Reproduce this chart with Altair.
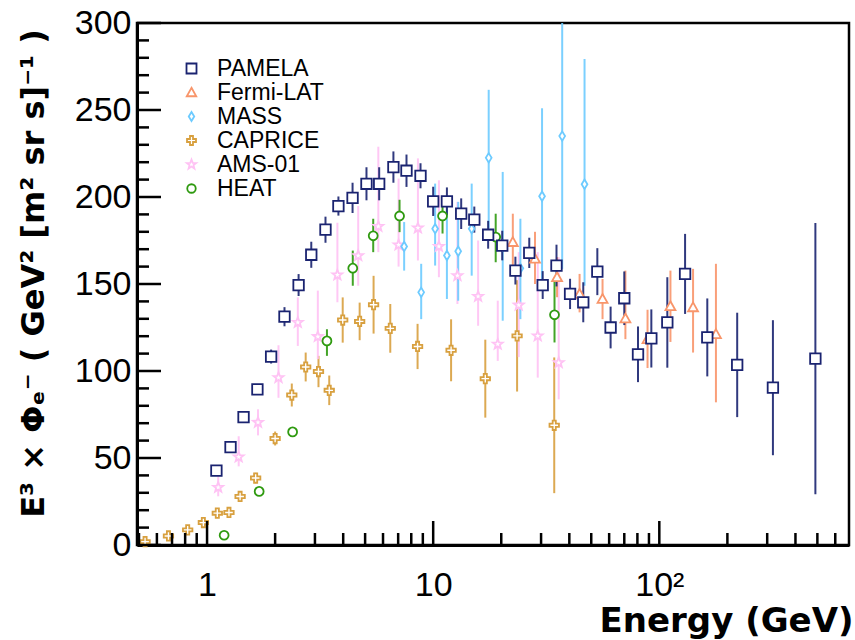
import math
import altair as alt
import pandas as pd

# ---------------- data ----------------
series_names = ["PAMELA", "Fermi-LAT", "MASS", "CAPRICE", "AMS-01", "HEAT"]
series_colors = ["#1a2370", "#f8956a", "#6dcbff", "#d8a03f", "#ffc2f4", "#2f9a10"]

pamela_x = [1.10, 1.27, 1.45, 1.67, 1.92, 2.20, 2.54, 2.89, 3.34, 3.81, 4.40, 5.07, 5.77, 6.67,
            7.62, 8.79, 10.0, 11.5, 13.3, 15.2, 17.5, 20.2, 23.1, 26.6, 30.5, 35.1, 40.3, 46.1,
            53.2, 60.9, 70.0, 80.5, 92.2, 108.5, 130, 163, 221, 318, 490]
pamela_y = [42.7, 56.2, 73.5, 89.4, 108.3, 131.2, 149.4, 166.8, 181.2, 194.8, 199.5, 207.6, 207.6,
            217.2, 215.1, 212.2, 197.5, 197.5, 190.4, 187.0, 178.3, 172.1, 157.7, 167.9, 149.4,
            160.6, 144.3, 139.5, 157.1, 125.0, 141.8, 109.6, 118.7, 127.9, 155.8, 119.3, 103.5,
            90.4, 107.1]
pamela_err = [1.5, 1.5, 2, 3, 4, 5.5, 6.3, 7.5, 7.5, 5.5, 8.7, 9.5, 9.5, 9, 9.3, 7.2, 8.4, 8,
              8.8, 7.5, 8, 8.5, 8, 8.7, 8, 12, 8.7, 11.5, 13.5, 12, 15.4, 16, 16.7, 26, 23, 22.4,
              30, 38.8, 78]

fermi_x = [22.5, 28.2, 35.3, 44.4, 56.1, 70.8, 88.7, 112, 141, 178]
fermi_y = [174.1, 164.5, 153.9, 144.3, 141.4, 130.2, 118.3, 137.2, 136.6, 121.2]
fermi_lo = [157.0, 150.0, 142.4, 133.7, 129.8, 118.3, 101.7, 116.7, 110.6, 82.0]
fermi_hi = [190.4, 180.0, 165.4, 155.8, 152.9, 157.7, 135.2, 157.7, 158.7, 161.6]

mass_x = [7.44, 8.85, 10.2, 11.5, 12.9, 14.8, 17.6, 20.3, 24.3, 30.3, 37.2, 46.7]
mass_y = [171.6, 145.2, 181.8, 166.4, 168.8, 181.8, 222.5, 172.0, 159.0, 200.4, 235.0, 207.3]
mass_lo = [157.7, 129.8, 160.6, 141.4, 140.4, 154.8, 182.0, 128.9, 129.8, 151.0, 158.7, 149.0]
mass_hi = [185.6, 161.6, 207.7, 198.1, 197.2, 207.7, 261.6, 214.4, 187.5, 251.0, 300.6, 279.3]

caprice_x = [0.532, 0.675, 0.821, 0.963, 1.11, 1.25, 1.40, 1.64, 2.00, 2.37, 2.73, 3.11, 3.47,
             3.98, 4.73, 5.45, 6.46, 8.53, 12.0, 17.0, 23.5, 34.3]
caprice_y = [1.9, 5.2, 8.7, 12.9, 18.3, 18.7, 27.9, 38.5, 61.2, 86.2, 102.3, 99.7, 88.9, 129.3,
             128.5, 138.1, 124.5, 114.1, 111.9, 95.6, 120.2, 68.8]
caprice_err = [0.5, 0.5, 1, 1, 1.5, 1.5, 2, 3, 4, 6.6, 8.3, 9, 8.5, 13, 10.8, 16.6, 14, 13,
               17.8, 22.4, 32, 39]

ams_x = [1.12, 1.38, 1.68, 2.07, 2.52, 3.09, 3.77, 4.66, 5.72, 7.03, 8.56, 10.6, 12.8, 15.8,
         19.3, 23.9, 29.0, 35.9]
ams_y = [33.1, 50.6, 70.5, 96.2, 127.9, 119.8, 155.2, 166.3, 183.1, 172.5, 182.2, 171.6, 154.8,
         142.9, 115.4, 137.9, 120.2, 104.8]
ams_lo = [28.0, 45.2, 63.0, 84.6, 114.4, 106.8, 139.5, 149.0, 168.3, 160.0, 163.5, 153.9, 138.5,
          126.0, 105.8, 108.0, 96.2, 83.7]
ams_hi = [39.4, 62.5, 78.0, 114.8, 142.3, 146.2, 185.2, 194.8, 228.9, 210.6, 222.2, 209.6, 197.2,
          175.0, 140.4, 168.3, 168.3, 165.4]

heat_x = [1.19, 1.70, 2.39, 3.39, 4.41, 5.43, 7.10, 11.0, 18.9, 34.4]
heat_y = [5.6, 30.8, 65.0, 117.3, 159.1, 177.7, 189.1, 189.1, 177.0, 132.3]
heat_lo = [5.1, 29.8, 63.0, 108.7, 149.0, 168.3, 179.8, 179.0, 162.5, 116.4]
heat_hi = [6.1, 31.8, 67.0, 124.0, 169.2, 187.5, 198.4, 199.0, 190.4, 151.9]

y_major_ticks = [0, 50, 100, 150, 200, 250, 300]
y_minor_ticks = [v for v in range(10, 300, 10) if v % 50 != 0]
x_major_ticks = [1, 10, 100]
x_minor_ticks = [0.5, 0.6, 0.7, 0.8, 0.9, 2, 3, 4, 5, 6, 7, 8, 9,
                 20, 30, 40, 50, 60, 70, 80, 90, 200, 300, 400, 500, 600]

# ---------------- table ----------------
draw_order = ["CAPRICE", "AMS-01", "MASS", "HEAT", "Fermi-LAT", "PAMELA"]
rows = []
def add(name, xs, ys, los, his):
    for a, b, lo, hi in zip(xs, ys, los, his):
        rows.append({"series": name, "x": a, "y": b, "lo": lo, "hi": hi,
                     "draw": draw_order.index(name)})

add("CAPRICE", caprice_x, caprice_y, [v - e for v, e in zip(caprice_y, caprice_err)],
    [v + e for v, e in zip(caprice_y, caprice_err)])
add("AMS-01", ams_x, ams_y, ams_lo, ams_hi)
add("MASS", mass_x, mass_y, mass_lo, mass_hi)
add("HEAT", heat_x, heat_y, heat_lo, heat_hi)
add("Fermi-LAT", fermi_x, fermi_y, fermi_lo, fermi_hi)
add("PAMELA", pamela_x, pamela_y, [v - e for v, e in zip(pamela_y, pamela_err)],
    [v + e for v, e in zip(pamela_y, pamela_err)])
df = pd.DataFrame(rows)

# ---------------- marker shapes (unit paths) ----------------
sq = "M-1,-1L1,-1L1,1L-1,1Z"
tri = "M0,-0.95L0.95,0.75L-0.95,0.75Z"
dia = "M0,-0.9L0.55,0L0,0.9L-0.55,0Z"
crs = ("M-0.3,-0.9L0.3,-0.9L0.3,-0.3L0.9,-0.3L0.9,0.3L0.3,0.3L0.3,0.9"
       "L-0.3,0.9L-0.3,0.3L-0.9,0.3L-0.9,-0.3L-0.3,-0.3Z")
pts = []
for k in range(10):
    r = 1.0 if k % 2 == 0 else 0.42
    ang = math.radians(-90 + 36 * k)
    pts.append(f"{r * math.cos(ang):.3f},{r * math.sin(ang):.3f}")
star = "M" + "L".join(pts) + "Z"
circ = "M-0.85,0A0.85,0.85,0,1,1,0.85,0A0.85,0.85,0,1,1,-0.85,0Z"
series_shapes = [sq, tri, dia, crs, star, circ]

W, H = 712, 522
xscale = alt.Scale(type="log", domain=[0.49, 690], nice=False)
yscale = alt.Scale(domain=[0, 300], nice=False, zero=True)

legend = alt.Legend(title=None, orient="none", legendX=43, legendY=34,
                    labelFont="Liberation Sans", labelFontSize=23, labelColor="black",
                    labelOffset=14, rowPadding=0, symbolStrokeWidth=1.8, symbolSize=100)

xaxis = alt.Axis(values=x_major_ticks, ticks=False, grid=False,
                 labelExpr="datum.value >= 100 ? '10²' : format(datum.value, 'd')",
                 labelFont="Liberation Sans", labelFontSize=34, labelColor="black",
                 labelPadding=23, labelFlush=False,
                 domainColor="black", domainWidth=3,
                 title="Energy (GeV)", titleFont="DejaVu Sans", titleFontWeight="bold",
                 titleFontSize=34, titleColor="black", titleX=W + 4, titleY=86,
                 titleAlign="right", titleBaseline="alphabetic", titleAnchor="end")
yaxis = alt.Axis(values=y_major_ticks, ticks=False, grid=False,
                 labelFont="Liberation Sans", labelFontSize=34, labelColor="black",
                 labelPadding=6,
                 domainColor="black", domainWidth=3,
                 title="E³ × Φₑ⁻ ( GeV² [m² sr s]⁻¹ )", titleFont="DejaVu Sans",
                 titleFontWeight="bold", titleFontSize=32, titleColor="black",
                 titleX=-104, titleY=250, titleAngle=-90, titleAlign="center",
                 titleBaseline="middle")

color_scale = alt.Scale(domain=series_names, range=series_colors)
# error bars: same colours, keyed in drawing order (a separate scale, so no legend merge)
bar_scale = alt.Scale(domain=draw_order,
                      range=[series_colors[series_names.index(n)] for n in draw_order])

bars = alt.Chart(df).mark_rule(strokeWidth=2, opacity=0.9, clip=True).encode(
    x=alt.X("x:Q", scale=xscale, axis=xaxis),
    y=alt.Y("lo:Q", scale=yscale, axis=yaxis),
    y2="hi:Q",
    stroke=alt.Stroke("series:N", scale=bar_scale, legend=None),
    order=alt.Order("draw:Q"),
)

points = alt.Chart(df).mark_point(filled=False, fill="white", strokeWidth=1.8, opacity=1,
                                  size=110).encode(
    x=alt.X("x:Q", scale=xscale, axis=xaxis),
    y=alt.Y("y:Q", scale=yscale, axis=yaxis),
    color=alt.Color("series:N", scale=color_scale, legend=legend),
    shape=alt.Shape("series:N", scale=alt.Scale(domain=series_names, range=series_shapes),
                    legend=legend),
    order=alt.Order("draw:Q"),
)

def ytick(vals, length):
    return alt.Chart(pd.DataFrame({"v": vals})).mark_rule(color="black", strokeWidth=2.5).encode(
        y=alt.Y("v:Q", scale=yscale, axis=yaxis), x=alt.value(0), x2=alt.value(length))

def xtick(vals, length):
    return alt.Chart(pd.DataFrame({"v": vals})).mark_rule(color="black", strokeWidth=2.5).encode(
        x=alt.X("v:Q", scale=xscale, axis=xaxis), y=alt.value(H), y2=alt.value(H - length))

chart = alt.layer(bars, points, ytick(y_major_ticks, 24), ytick(y_minor_ticks, 12),
                  xtick(x_major_ticks, 24), xtick(x_minor_ticks, 12)).properties(
    width=W, height=H,
    autosize=alt.AutoSizeParams(type="none"),
    padding={"left": 137, "top": 23, "right": 6, "bottom": 95},
    background="white",
).configure_view(stroke="black", strokeWidth=2.5)

chart.save("out.html", embed_options={"renderer": "svg", "actions": False})
